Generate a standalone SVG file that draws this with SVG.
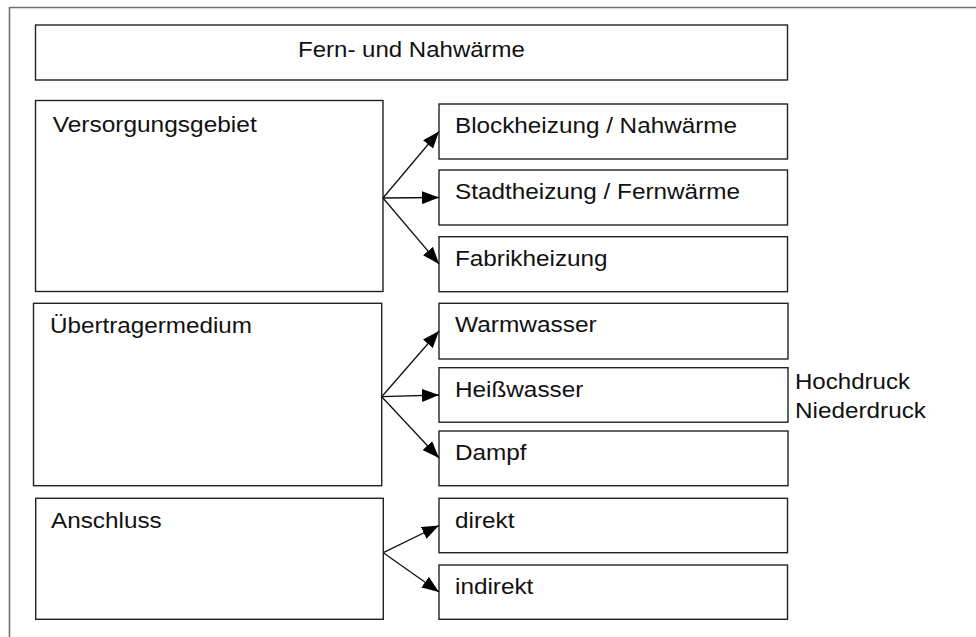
<svg xmlns="http://www.w3.org/2000/svg" width="976" height="637" viewBox="0 0 976 637">
<style>
.box{fill:#fff;stroke:#222;stroke-width:1.4}
.t{font-family:"Liberation Sans",Arial,sans-serif;font-size:22px;fill:#111}
.c{fill:none;stroke:#111;stroke-width:1.3}
</style>
<defs>
<marker id="ah" markerUnits="userSpaceOnUse" markerWidth="17" markerHeight="13" refX="17" refY="6.5" orient="auto" viewBox="0 0 17 13">
<path d="M0,0 L17,6.5 L0,13 z" fill="#000"/>
</marker>
</defs>
<rect width="976" height="637" fill="#fff"/>
<path d="M9.5,640 V7.5 H980" fill="none" stroke="#707070" stroke-width="1.6"/>
<g id="title"><rect class="box" x="35.5" y="25" width="752" height="55"/><text class="t" x="298" y="57" textLength="227" lengthAdjust="spacingAndGlyphs">Fern- und Nahwärme</text></g>
<g id="versorgungsgebiet"><rect class="box" x="35.5" y="100.5" width="347.5" height="191"/><text class="t" x="52.7" y="131.7" textLength="204" lengthAdjust="spacingAndGlyphs">Versorgungsgebiet</text></g>
<g id="blockheizung"><rect class="box" x="439" y="104" width="348.5" height="55"/><text class="t" x="455" y="133" textLength="282" lengthAdjust="spacingAndGlyphs">Blockheizung / Nahwärme</text></g>
<g id="stadtheizung"><rect class="box" x="439" y="170" width="348.5" height="55"/><text class="t" x="455" y="199" textLength="285" lengthAdjust="spacingAndGlyphs">Stadtheizung / Fernwärme</text></g>
<g id="fabrikheizung"><rect class="box" x="439" y="236.7" width="348.5" height="55"/><text class="t" x="455" y="265.7" textLength="152.6" lengthAdjust="spacingAndGlyphs">Fabrikheizung</text></g>
<g id="uebertragermedium"><rect class="box" x="33.5" y="303.3" width="348.2" height="182.4"/><text class="t" x="50" y="333.3" textLength="202" lengthAdjust="spacingAndGlyphs">Übertragermedium</text></g>
<g id="warmwasser"><rect class="box" x="439" y="303.3" width="349" height="55.7"/><text class="t" x="455" y="332" textLength="141.7" lengthAdjust="spacingAndGlyphs">Warmwasser</text></g>
<g id="heisswasser"><rect class="box" x="439" y="367.7" width="349" height="54.5"/><text class="t" x="455" y="396.7" textLength="128.3" lengthAdjust="spacingAndGlyphs">Heißwasser</text></g>
<g id="dampf"><rect class="box" x="439" y="431" width="349" height="54.7"/><text class="t" x="455" y="460" textLength="71.6" lengthAdjust="spacingAndGlyphs">Dampf</text></g>
<g id="druck"><text class="t" x="795" y="389.3" textLength="115" lengthAdjust="spacingAndGlyphs">Hochdruck</text><text class="t" x="795" y="418.3" textLength="131" lengthAdjust="spacingAndGlyphs">Niederdruck</text></g>
<g id="anschluss"><rect class="box" x="35.7" y="498.3" width="347.6" height="121"/><text class="t" x="51" y="528.3" textLength="110.7" lengthAdjust="spacingAndGlyphs">Anschluss</text></g>
<g id="direkt"><rect class="box" x="439" y="498.3" width="348.5" height="54.4"/><text class="t" x="455" y="528" textLength="59.4" lengthAdjust="spacingAndGlyphs">direkt</text></g>
<g id="indirekt"><rect class="box" x="439" y="565" width="348.5" height="54.3"/><text class="t" x="455" y="594" textLength="78.3" lengthAdjust="spacingAndGlyphs">indirekt</text></g>
<g id="connectors">
<line class="c" x1="383" y1="198" x2="439" y2="131.5" marker-end="url(#ah)"/>
<line class="c" x1="383" y1="198" x2="439" y2="197.5" marker-end="url(#ah)"/>
<line class="c" x1="383" y1="198" x2="439" y2="264" marker-end="url(#ah)"/>
<line class="c" x1="381.7" y1="396.7" x2="439" y2="331" marker-end="url(#ah)"/>
<line class="c" x1="381.7" y1="396.7" x2="439" y2="395" marker-end="url(#ah)"/>
<line class="c" x1="381.7" y1="396.7" x2="439" y2="458" marker-end="url(#ah)"/>
<line class="c" x1="383.3" y1="552.7" x2="439" y2="525.5" marker-end="url(#ah)"/>
<line class="c" x1="383.3" y1="552.7" x2="439" y2="592" marker-end="url(#ah)"/>
</g>
</svg>
